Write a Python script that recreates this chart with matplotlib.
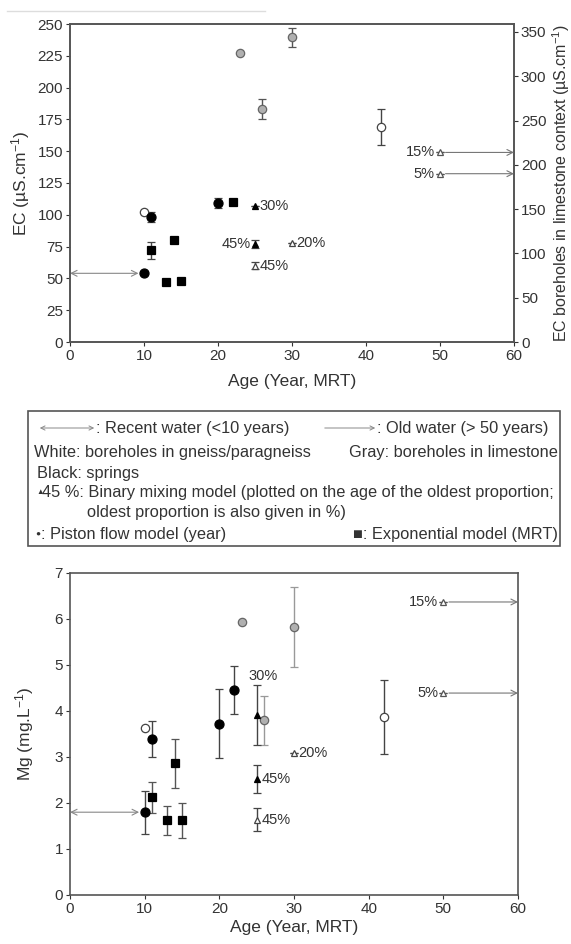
import numpy as np
import matplotlib
matplotlib.use('Agg')
from matplotlib import pyplot as plt
from matplotlib.lines import Line2D
from matplotlib.patches import Rectangle, FancyArrowPatch

plt.rcParams['font.family'] = ['Liberation Sans', 'DejaVu Sans']
plt.rcParams['mathtext.default'] = 'regular'
plt.rcParams['font.size'] = 10.5

DARK = '#333333'

# ---- EC (top panel) ----
ec_gneiss_age = [10, 42]
ec_gneiss = [102, 169]
ec_gneiss_err = [0, 14]

# limestone boreholes, read on the right axis
ec_lime_age = [23, 26, 30]
ec_lime = [326, 263, 344]
ec_lime_err = [0, 11, 11]

ec_piston_age = [10, 11, 20]
ec_piston = [54, 98, 109]
ec_piston_err = [0, 4, 4]

ec_expo_age = [11, 13, 14, 15, 22]
ec_expo = [72, 47, 80, 48, 110]
ec_expo_err = [7, 0, 2, 0, 2]

ec_mix_black_age = [25, 25]
ec_mix_black = [107, 77]
ec_mix_black_err = [0, 3]
ec_mix_black_lab = ['30%', '45%']

ec_mix_white_age = [25, 30]
ec_mix_white = [60, 78]
ec_mix_white_err = [3, 0]
ec_mix_white_lab = ['45%', '20%']

ec_old_age = [50, 50]
ec_old = [214, 190]          # right axis
ec_old_lab = ['15%', '5%']

# ---- Mg (bottom panel) ----
mg_gneiss_age = [10, 42]
mg_gneiss = [3.63, 3.87]
mg_gneiss_err = [0, 0.8]

mg_lime_age = [23, 26, 30]
mg_lime = [5.93, 3.8, 5.83]
mg_lime_err = [0, 0.53, 0.87]

mg_piston_age = [10, 11, 20, 22]
mg_piston = [1.8, 3.39, 3.72, 4.46]
mg_piston_err = [0.47, 0.4, 0.75, 0.52]

mg_expo_age = [11, 13, 14, 15]
mg_expo = [2.12, 1.62, 2.86, 1.62]
mg_expo_err = [0.33, 0.31, 0.53, 0.38]

mg_mix_black_age = [25, 25]
mg_mix_black = [3.91, 2.52]
mg_mix_black_err = [0.65, 0.3]
mg_mix_black_lab = ['30%', '45%']

mg_mix_white_age = [25, 30]
mg_mix_white = [1.64, 3.08]
mg_mix_white_err = [0.25, 0]
mg_mix_white_lab = ['45%', '20%']

mg_old_age = [50, 50]
mg_old = [6.37, 4.39]
mg_old_lab = ['15%', '5%']


def pts(ax, x, y, err, marker, fc, ec, ms, ecolor):
    ax.errorbar(x, y, yerr=err, fmt=marker, mfc=fc, mec=ec, ms=ms, mew=0.9,
                ecolor=ecolor, elinewidth=1.0, capsize=3, capthick=1.0, zorder=3)


def style(ax):
    for s in ax.spines.values():
        s.set_color('#555555')
        s.set_linewidth(1.2)
    ax.tick_params(colors=DARK, direction='out', length=3, width=0.8, labelsize=11, pad=2)


def fx(px):
    return px / 571


def fy(py):
    return 1 - py / 944


fig = plt.figure(figsize=(5.71, 9.44), dpi=100)

# stray rule at the very top
fig.add_artist(Line2D([fx(7), fx(265)], [fy(11)] * 2, color='#dddddd', lw=1))

# ================= top panel =================
ax1 = fig.add_axes([fx(70), fy(342), 444 / 571, 318 / 944])
ax2 = ax1.twinx()
ax1.set_xlim(0, 60)
ax1.set_ylim(0, 250)
ax2.set_ylim(0, 359)
ax1.set_xticks(np.arange(0, 61, 10))
ax1.set_yticks(np.arange(0, 251, 25))
ax2.set_yticks(np.arange(0, 351, 50))
style(ax1)
style(ax2)

pts(ax1, ec_gneiss_age, ec_gneiss, ec_gneiss_err, 'o', 'white', '#444444', 6, '#444444')
pts(ax2, ec_lime_age, ec_lime, ec_lime_err, 'o', '#b0b0b0', '#666666', 6, '#555555')
pts(ax1, ec_piston_age, ec_piston, ec_piston_err, 'o', 'black', 'black', 6.5, '#444444')
pts(ax1, ec_expo_age, ec_expo, ec_expo_err, 's', 'black', 'black', 6, '#444444')
pts(ax1, ec_mix_black_age, ec_mix_black, ec_mix_black_err, '^', 'black', 'black', 4.5, '#444444')
pts(ax1, ec_mix_white_age, ec_mix_white, ec_mix_white_err, '^', 'white', '#444444', 4.5, '#444444')
pts(ax2, ec_old_age, ec_old, [0, 0], '^', 'white', '#555555', 4.5, '#555555')

ax1.text(ec_mix_black_age[0] + 0.6, ec_mix_black[0], ec_mix_black_lab[0], va='center', ha='left', color=DARK)
ax1.text(ec_mix_black_age[1] - 0.6, ec_mix_black[1], ec_mix_black_lab[1], va='center', ha='right', color=DARK)
ax1.text(ec_mix_white_age[0] + 0.6, ec_mix_white[0], ec_mix_white_lab[0], va='center', ha='left', color=DARK)
ax1.text(ec_mix_white_age[1] + 0.6, ec_mix_white[1], ec_mix_white_lab[1], va='center', ha='left', color=DARK)
for a, v, lab in zip(ec_old_age, ec_old, ec_old_lab):
    ax2.text(a - 0.7, v, lab, va='center', ha='right', color=DARK)
    ax2.annotate('', xy=(60, v), xytext=(a, v),
                 arrowprops=dict(arrowstyle='->', color='#777777', lw=0.8, shrinkA=4, shrinkB=0))

ax1.annotate('', xy=(ec_piston_age[0], ec_piston[0]), xytext=(0, ec_piston[0]),
             arrowprops=dict(arrowstyle='<->', color='#888888', lw=0.8, shrinkA=0, shrinkB=4))

ax1.set_xlabel('Age (Year, MRT)', fontsize=12.5, color=DARK, labelpad=8)
ax1.set_ylabel('EC (µS.cm$^{-1}$)', fontsize=12.5, color=DARK, labelpad=4)
ax2.set_ylabel('EC boreholes in limestone context (µS.cm$^{-1}$)', fontsize=11.5, color=DARK, labelpad=3)

# ================= legend box =================
fig.add_artist(Rectangle((fx(28), fy(546)), 532 / 571, 135 / 944, transform=fig.transFigure,
                         fill=False, ec='#555555', lw=1.2))

lfs = 11.8
fig.add_artist(FancyArrowPatch((fx(37), fy(428)), (fx(97), fy(428)), transform=fig.transFigure,
                               arrowstyle='<->,head_length=3,head_width=1.5', color='#888888', lw=0.7))
fig.text(fx(96), fy(428), ': Recent water (<10 years)', va='center', ha='left', fontsize=lfs, color=DARK)
fig.add_artist(FancyArrowPatch((fx(322), fy(428)), (fx(378), fy(428)), transform=fig.transFigure,
                               arrowstyle='->,head_length=3,head_width=1.5', color='#888888', lw=0.7))
fig.text(fx(377), fy(428), ': Old water (> 50 years)', va='center', ha='left', fontsize=lfs, color=DARK)
fig.text(fx(34), fy(452), 'White: boreholes in gneiss/paragneiss', va='center', ha='left', fontsize=lfs, color=DARK)
fig.text(fx(558), fy(452), 'Gray: boreholes in limestone', va='center', ha='right', fontsize=lfs, color=DARK)
fig.text(fx(37), fy(473), 'Black: springs', va='center', ha='left', fontsize=lfs, color=DARK)
fig.text(fx(36), fy(493), '▲', va='center', ha='left', fontsize=5.5, color=DARK)
fig.text(fx(42), fy(493), '45 %: Binary mixing model (plotted on the age of the oldest proportion;',
         va='center', ha='left', fontsize=lfs, color=DARK)
fig.text(fx(87), fy(512), 'oldest proportion is also given in %)', va='center', ha='left', fontsize=lfs, color=DARK)
fig.text(fx(35), fy(534), '●', va='center', ha='left', fontsize=6, color=DARK)
fig.text(fx(41), fy(534), ': Piston flow model (year)', va='center', ha='left', fontsize=lfs, color=DARK)
fig.text(fx(558), fy(534), '■: Exponential model (MRT)', va='center', ha='right', fontsize=lfs, color=DARK)

# ================= bottom panel =================
ax3 = fig.add_axes([fx(70), fy(895), 448 / 571, 322 / 944])
ax3.set_xlim(0, 60)
ax3.set_ylim(0, 7)
ax3.set_xticks(np.arange(0, 61, 10))
ax3.set_yticks(np.arange(0, 8, 1))
style(ax3)

pts(ax3, mg_gneiss_age, mg_gneiss, mg_gneiss_err, 'o', 'white', '#444444', 6, '#444444')
pts(ax3, mg_lime_age, mg_lime, mg_lime_err, 'o', '#b0b0b0', '#666666', 6, '#999999')
pts(ax3, mg_piston_age, mg_piston, mg_piston_err, 'o', 'black', 'black', 6.5, '#444444')
pts(ax3, mg_expo_age, mg_expo, mg_expo_err, 's', 'black', 'black', 6, '#555555')
pts(ax3, mg_mix_black_age, mg_mix_black, mg_mix_black_err, '^', 'black', 'black', 4.5, '#444444')
pts(ax3, mg_mix_white_age, mg_mix_white, mg_mix_white_err, '^', 'white', '#444444', 4.5, '#444444')
pts(ax3, mg_old_age, mg_old, [0, 0], '^', 'white', '#555555', 4.5, '#555555')

ax3.text(mg_mix_black_age[0] + 0.8, mg_mix_black[0] + 0.85, mg_mix_black_lab[0], va='center', ha='center', color=DARK)
ax3.text(mg_mix_black_age[1] + 0.6, mg_mix_black[1], mg_mix_black_lab[1], va='center', ha='left', color=DARK)
ax3.text(mg_mix_white_age[0] + 0.6, mg_mix_white[0], mg_mix_white_lab[0], va='center', ha='left', color=DARK)
ax3.text(mg_mix_white_age[1] + 0.6, mg_mix_white[1], mg_mix_white_lab[1], va='center', ha='left', color=DARK)
for a, v, lab in zip(mg_old_age, mg_old, mg_old_lab):
    ax3.text(a - 0.7, v, lab, va='center', ha='right', color=DARK)
    ax3.annotate('', xy=(60, v), xytext=(a, v),
                 arrowprops=dict(arrowstyle='->', color='#777777', lw=0.8, shrinkA=4, shrinkB=0))

ax3.annotate('', xy=(mg_piston_age[0], mg_piston[0]), xytext=(0, mg_piston[0]),
             arrowprops=dict(arrowstyle='<->', color='#888888', lw=0.8, shrinkA=0, shrinkB=4))

ax3.set_xlabel('Age (Year, MRT)', fontsize=12.5, color=DARK, labelpad=3)
ax3.set_ylabel('Mg (mg.L$^{-1}$)', fontsize=12.5, color=DARK, labelpad=13)

fig.savefig('out.png', dpi=100)
